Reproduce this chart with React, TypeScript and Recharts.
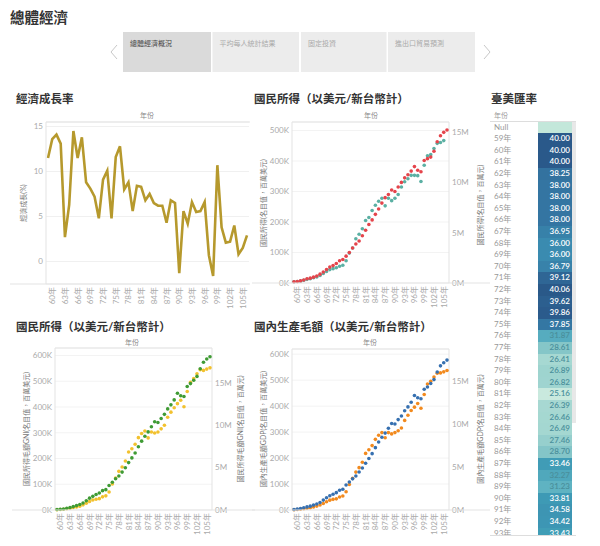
import React from 'react';
import { LineChart, Line, ScatterChart, Scatter, XAxis, YAxis, CartesianGrid } from 'recharts';

const FONT = "Lato, 'Noto Sans CJK TC', 'Noto Sans', sans-serif";

// 民國年 59 ~ 106
const years = [59, 60, 61, 62, 63, 64, 65, 66, 67, 68, 69, 70, 71, 72, 73, 74, 75, 76, 77, 78, 79, 80, 81, 82, 83,
  84, 85, 86, 87, 88, 89, 90, 91, 92, 93, 94, 95, 96, 97, 98, 99, 100, 101, 102, 103, 104, 105, 106];
const yearTicks = [60, 63, 66, 69, 72, 75, 78, 81, 84, 87, 90, 93, 96, 99, 102, 105];

// 經濟成長率 (%)
const growth = [11.5, 13.6, 14.1, 13.1, 2.7, 6.3, 14.5, 11.5, 13.8, 8.8, 8.1, 7.2, 4.8, 9.1, 10.1, 4.8, 11.6, 12.8,
  8.0, 8.8, 5.6, 8.4, 8.3, 6.8, 7.5, 6.5, 6.2, 6.2, 4.3, 6.8, 6.5, -1.3, 5.6, 4.2, 6.6, 5.5, 5.6, 6.6, 0.7, -1.6,
  10.7, 3.8, 2.1, 2.2, 4.0, 0.8, 1.5, 2.9];

// 國民所得：百萬美元 (K) / 百萬元 (M)
const niUsd = [4, 5, 6, 9, 12, 14, 17, 20, 25, 31, 38, 44, 47, 50, 55, 58, 73, 98, 115, 145, 160, 178, 205, 215, 238,
  255, 268, 278, 253, 278, 270, 278, 290, 315, 332, 342, 353, 353, 352, 333, 386, 417, 421, 441, 458, 461, 467, null];
const niNtd = [0.12, 0.15, 0.21, 0.30, 0.42, 0.48, 0.58, 0.70, 0.88, 1.09, 1.33, 1.58, 1.73, 1.94, 2.21, 2.33, 2.67,
  3.03, 3.48, 3.88, 4.18, 4.70, 5.24, 5.82, 6.27, 6.82, 7.36, 7.94, 8.48, 8.79, 9.24, 9.09, 9.54, 10.0, 10.45, 10.76,
  11.12, 11.57, 11.21, 11.06, 12.18, 12.36, 12.51, 13.09, 14.03, 14.63, 14.97, 15.21];

// 國民所得毛額 GNI
const gniUsd = [1, 2, 3, 5, 7, 10, 12, 15, 20, 26, 33, 39, 42, 44, 51, 55, 70, 101, 124, 150, 167, 190, 225, 238, 255,
  281, 297, 307, 280, 303, 299, 303, 315, 329, 360, 380, 397, 413, 426, 401, 460, 496, 510, 529, 545, 542, 547, 552];
const gniNtd = [0.06, 0.09, 0.12, 0.20, 0.30, 0.40, 0.52, 0.64, 0.82, 1.09, 1.40, 1.61, 1.82, 2.01, 2.28, 2.40, 2.89,
  3.28, 3.68, 4.01, 4.47, 4.99, 5.59, 6.14, 6.72, 7.45, 8.12, 8.69, 9.21, 9.82, 10.40, 10.31, 10.79, 11.28, 11.92,
  12.40, 12.98, 13.77, 13.47, 13.38, 14.56, 14.90, 15.29, 15.75, 16.66, 17.42, 17.81, 18.06];

// 國內生產毛額 GDP
const gdpUsd = [1, 2, 3, 5, 7, 9, 12, 15, 19, 25, 32, 38, 41, 43, 50, 54, 70, 98, 122, 146, 163, 184, 218, 232, 248,
  272, 288, 298, 278, 298, 293, 298, 305, 316, 345, 365, 383, 396, 410, 392, 445, 485, 496, 512, 527, 528, 532, 537];
const gdpNtd = [0.06, 0.12, 0.18, 0.27, 0.36, 0.45, 0.57, 0.69, 0.88, 1.15, 1.42, 1.66, 1.84, 2.02, 2.30, 2.42, 2.90,
  3.26, 3.62, 3.96, 4.41, 4.89, 5.44, 5.98, 6.55, 7.25, 7.91, 8.46, 8.94, 9.51, 10.06, 10.00, 10.51, 10.93, 11.54,
  11.99, 12.53, 13.32, 13.05, 12.93, 14.04, 14.31, 14.71, 15.16, 16.04, 16.76, 17.12, 17.43];

// 臺美匯率
const rateLabels = ['Null', '59年', '60年', '61年', '62年', '63年', '64年', '65年', '66年', '67年', '68年', '69年',
  '70年', '71年', '72年', '73年', '74年', '75年', '76年', '77年', '78年', '79年', '80年', '81年', '82年', '83年',
  '84年', '85年', '86年', '87年', '88年', '89年', '90年', '91年', '92年', '93年'];
const rates = [null, 40.00, 40.00, 40.00, 38.25, 38.00, 38.00, 38.00, 38.00, 36.95, 36.00, 36.00, 36.79, 39.12, 40.06,
  39.62, 39.86, 37.85, 31.87, 28.61, 26.41, 26.89, 26.82, 25.16, 26.39, 26.46, 26.49, 27.46, 28.70, 33.46, 32.27,
  31.23, 33.81, 34.58, 34.42, 33.43];

const tabs = ['總體經濟概況', '平均每人統計結果', '固定投資', '進出口貿易預測'];

const rateStops: Array<[number, string]> = [
  [25.0, '#cdebdf'], [26.5, '#a4d7d1'], [28.7, '#84c5c8'], [31.2, '#5fb3c2'],
  [33.5, '#3f9cb6'], [36.0, '#3a8bb0'], [38.0, '#3475a2'], [40.1, '#2a5889'],
];
const hex = (c: string) => [1, 3, 5].map((i) => parseInt(c.slice(i, i + 2), 16));
function rateColor(v: number | null) {
  if (v == null) return '#c3e7da';
  for (let i = 1; i < rateStops.length; i++) {
    const [v0, c0] = rateStops[i - 1];
    const [v1, c1] = rateStops[i];
    if (v <= v1 || i === rateStops.length - 1) {
      const t = Math.max(0, Math.min(1, (v - v0) / (v1 - v0)));
      const a = hex(c0), b = hex(c1);
      return `rgb(${a.map((x, k) => Math.round(x + (b[k] - x) * t)).join(',')})`;
    }
  }
  return '#2a5889';
}

const growthData = years.map((year, i) => ({ year, g: growth[i] }));
const pts = (vals: Array<number | null>) =>
  years.map((year, i) => ({ year, v: vals[i] })).filter((d) => d.v != null);

const YearTick = (props: any) => {
  const { x, y, payload } = props;
  return (
    <text x={x} y={y} transform={`rotate(-90 ${x} ${y})`} textAnchor="end" dominantBaseline="central"
      fontSize={8} fill="#aaa" fontFamily={FONT}>
      {payload.value}年
    </text>
  );
};

const dot = (color: string) => (p: any) => <circle cx={p.cx} cy={p.cy} r={1.8} fill={color} />;

const axisTick = { fontSize: 8, fill: '#aaa', fontFamily: FONT };

type DualProps = {
  left: number; top: number; width: number; height: number; mt: number; lw: number; rw: number;
  usd: Array<number | null>; ntd: Array<number | null>; usdColor: string; ntdColor: string;
  kMax: number; mMax: number; kTicks: number[]; mTicks: number[];
};

function DualScatter(p: DualProps) {
  return (
    <div style={{ position: 'absolute', left: p.left, top: p.top }}>
      <ScatterChart width={p.width} height={p.height} margin={{ top: p.mt, right: 0, left: 0, bottom: 0 }}>
        <CartesianGrid vertical={false} yAxisId="k" stroke="#f3f3f3" />
        <XAxis dataKey="year" type="number" domain={[59, 106]} ticks={yearTicks} interval={0} tick={<YearTick />}
          tickLine={false} axisLine={false} height={26} padding={{ left: 2, right: 2 }} tickSize={0} tickMargin={3} />
        <YAxis yAxisId="k" dataKey="v" type="number" domain={[0, p.kMax]} ticks={p.kTicks} width={p.lw}
          tickLine={false} tickSize={2} tickMargin={1} axisLine={{ stroke: '#e3e3e3' }} tick={axisTick}
          tickFormatter={(v: number) => `${v}K`} />
        <YAxis yAxisId="m" orientation="right" dataKey="v" type="number" domain={[0, p.mMax]} ticks={p.mTicks}
          width={p.rw} tickLine={false} tickSize={2} tickMargin={1} axisLine={{ stroke: '#e3e3e3' }} tick={axisTick}
          tickFormatter={(v: number) => `${v}M`} />
        <Scatter yAxisId="k" data={pts(p.usd)} shape={dot(p.usdColor)} isAnimationActive={false} />
        <Scatter yAxisId="m" data={pts(p.ntd)} shape={dot(p.ntdColor)} isAnimationActive={false} />
      </ScatterChart>
    </div>
  );
}

const VTitle = ({ x, y, text }: { x: number; y: number; text: string }) => (
  <text transform={`translate(${x},${y}) rotate(-90)`} textAnchor="middle" dominantBaseline="central"
    fontSize={7} fill="#777">{text}</text>
);

export default function App() {
  const ROW = 11.6;
  return (
    <div style={{ position: 'absolute', left: 0, top: 0, width: 600, height: 546, background: '#fff', fontFamily: FONT, overflow: 'hidden' }}>
      {/* 經濟成長率 */}
      <div style={{ position: 'absolute', left: 10, top: 105 }}>
        <LineChart width={240} height={205} data={growthData} margin={{ top: 17, right: 1, left: 0, bottom: 0 }}>
          <CartesianGrid vertical={false} stroke="#f0f0f0" />
          <XAxis dataKey="year" type="number" domain={[59, 106]} ticks={yearTicks} interval={0} tick={<YearTick />}
            tickLine={false} axisLine={false} height={26} padding={{ left: 2, right: 2 }} tickSize={0} tickMargin={3} />
          <YAxis domain={[-2.5, 15.5]} ticks={[0, 5, 10, 15]} width={36} tickLine={false} tickSize={2} tickMargin={1}
            axisLine={{ stroke: '#e3e3e3' }} tick={axisTick} />
          <Line dataKey="g" stroke="#b6992d" strokeWidth={2.6} dot={false} isAnimationActive={false} />
        </LineChart>
      </div>

      <DualScatter left={250} top={105} width={240} height={204} mt={17} lw={42} rw={41}
        usd={niUsd} ntd={niNtd} usdColor="#5bb0a3" ntdColor="#e5444b"
        kMax={528} mMax={16} kTicks={[0, 100, 200, 300, 400, 500]} mTicks={[0, 5, 10, 15]} />
      <DualScatter left={10} top={333} width={245} height={203} mt={15} lw={45} rw={43}
        usd={gniUsd} ntd={gniNtd} usdColor="#f2c12e" ntdColor="#3f9b34"
        kMax={629} mMax={19.1} kTicks={[0, 100, 200, 300, 400, 500, 600]} mTicks={[0, 5, 10, 15]} />
      <DualScatter left={250} top={333} width={240} height={203} mt={16} lw={42} rw={41}
        usd={gdpUsd} ntd={gdpNtd} usdColor="#f28a1e" ntdColor="#3670b0"
        kMax={620} mMax={18.72} kTicks={[0, 100, 200, 300, 400, 500, 600]} mTicks={[0, 5, 10, 15]} />

      {/* 臺美匯率 table */}
      <div style={{ position: 'absolute', left: 490, top: 121.5, width: 86, height: 414, overflow: 'hidden' }}>
        <div style={{ position: 'absolute', left: 82, top: 0, width: 4, height: 301, background: '#e8e8e8' }} />
        {rateLabels.map((lab, i) => (
          <div key={lab} style={{ position: 'absolute', left: 0, top: i * ROW, width: 82, height: ROW }}>
            <div style={{ position: 'absolute', left: 4, top: 0, fontSize: 8, lineHeight: `${ROW}px`, color: '#999' }}>{lab}</div>
            <div style={{
              position: 'absolute', left: 48, top: 0, width: 34, height: ROW + 0.4, background: rateColor(rates[i]),
              fontSize: 8, lineHeight: `${ROW}px`, textAlign: 'right', boxSizing: 'border-box', paddingRight: 2,
              color: rates[i] != null && rates[i]! > 33 ? '#fff' : '#4a8f9b', fontWeight: 600,
            }}>{rates[i] != null ? rates[i]!.toFixed(2) : ''}</div>
          </div>
        ))}
      </div>

      <svg width={600} height={546} style={{ position: 'absolute', left: 0, top: 0, pointerEvents: 'none' }} fontFamily={FONT}>
        <text x={10} y={23} fontSize={14.5} fill="#333" fontWeight={700}>總體經濟</text>

        {/* tabs */}
        {tabs.map((t, i) => {
          const xs = [123, 212.5, 301, 388];
          const ws = [88, 86.5, 85.5, 87];
          return (
            <g key={t}>
              <rect x={xs[i]} y={32} width={ws[i]} height={40} fill={i === 0 ? '#dadada' : '#ececec'} />
              <text x={xs[i] + 7} y={46} fontSize={7} fill={i === 0 ? '#444' : '#aaa'}>{t}</text>
            </g>
          );
        })}
        <polyline points="117,45 111,52 117,59" fill="none" stroke="#c8c8c8" strokeWidth={1} />
        <polyline points="484,45 490,52 484,59" fill="none" stroke="#c8c8c8" strokeWidth={1} />

        {/* section titles */}
        <text x={16} y={103} fontSize={11.5} fill="#333" fontWeight={700}>經濟成長率</text>
        <text x={254} y={103} fontSize={11.5} fill="#333" fontWeight={700}>國民所得（以美元/新台幣計）</text>
        <text x={491} y={103} fontSize={11.5} fill="#333" fontWeight={700}>臺美匯率</text>
        <text x={16} y={331} fontSize={11.5} fill="#333" fontWeight={700}>國民所得（以美元/新台幣計）</text>
        <text x={254} y={331} fontSize={11.5} fill="#333" fontWeight={700}>國內生產毛額（以美元/新台幣計）</text>

        {/* 年份 headers & frame lines */}
        <text x={147} y={118} fontSize={7} fill="#888" textAnchor="middle">年份</text>
        <line x1={46} x2={250} y1={122} y2={122} stroke="#e3e3e3" />
        <line x1={10} x2={250} y1={284} y2={284} stroke="#e3e3e3" />

        <text x={371} y={118} fontSize={7} fill="#888" textAnchor="middle">年份</text>
        <line x1={292} x2={449} y1={122} y2={122} stroke="#e3e3e3" />
        <line x1={252} x2={490} y1={283} y2={283} stroke="#e3e3e3" />

        <text x={132} y={345} fontSize={7} fill="#888" textAnchor="middle">年份</text>
        <line x1={55} x2={212} y1={348} y2={348} stroke="#e3e3e3" />
        <line x1={12} x2={255} y1={510} y2={510} stroke="#e3e3e3" />

        <text x={370} y={345} fontSize={7} fill="#888" textAnchor="middle">年份</text>
        <line x1={292} x2={449} y1={349} y2={349} stroke="#e3e3e3" />
        <line x1={252} x2={490} y1={510} y2={510} stroke="#e3e3e3" />

        {/* axis titles */}
        <VTitle x={23} y={203} text="經濟成長(%)" />
        <VTitle x={263} y={203} text="國民所得(名目值，百萬美元)" />
        <VTitle x={480} y={205} text="國民所得(名目值，百萬元)" />
        <VTitle x={26} y={429} text="國民所得毛額GNI(名目值，百萬美元)" />
        <VTitle x={240} y={429} text="國民所得毛額GNI(名目值，百萬元)" />
        <VTitle x={263} y={429} text="國內生產毛額GDP(名目值，百萬美元)" />
        <VTitle x={480} y={429} text="國內生產毛額GDP(名目值，百萬元)" />

        {/* table header */}
        <text x={494} y={118} fontSize={7} fill="#999">年份</text>
        <line x1={490} x2={576} y1={121.5} y2={121.5} stroke="#ddd" />
        <line x1={490} x2={576} y1={535.5} y2={535.5} stroke="#ddd" />
      </svg>
    </div>
  );
}
